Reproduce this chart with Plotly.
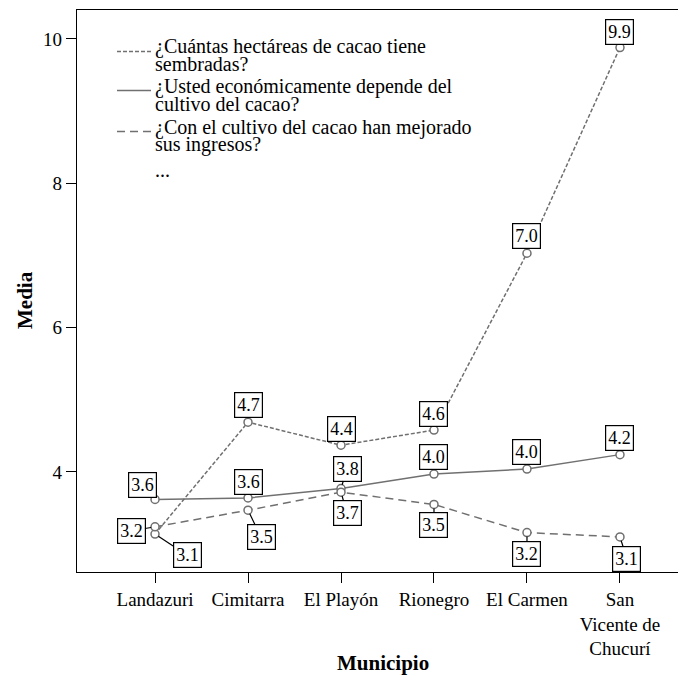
import plotly.graph_objects as go

municipios = ["Landazuri", "Cimitarra", "El Playón", "Rionegro", "El Carmen", "San<br>Vicente de<br>Chucurí"]
series_names = [
    ["¿Cuántas hectáreas de cacao tiene", "sembradas?"],
    ["¿Usted económicamente depende del", "cultivo del cacao?"],
    ["¿Con el cultivo del cacao han mejorado", "sus ingresos?"],
]
extra_legend = "..."
hectareas = [3.14, 4.69, 4.37, 4.58, 7.03, 9.88]
depende = [3.62, 3.64, 3.77, 3.97, 4.04, 4.24]
ingresos = [3.24, 3.47, 3.72, 3.55, 3.16, 3.10]
y_ticks = [4, 6, 8, 10]
x_title = "Municipio"
y_title = "Media"

series = [hectareas, depende, ingresos]
dashes = ["4px,2px", "solid", "8px,5px"]
# label offsets (pixels) for each series / point
offsets = [
    [(32, 21), (0, -17), (0, -16), (0, -16), (0, -17), (0, -16)],
    [(-13, -14), (0, -16), (6, -20), (0, -17), (0, -17), (0, -17)],
    [(-24, 4), (13, 27), (6, 21), (0, 21), (0, 21), (7, 22)],
]

GRAY = "#707070"
FONT = "Liberation Serif"
OFF = 8  # page body margin
W, H = 678, 669
L, R, T, B = 69, 0, 2, 105
PW, PH = W - L - R, H - T - B


def px_x(page_x):
    return (page_x - OFF - L) / PW


def px_y(page_y):
    return 1 - (page_y - OFF - T) / PH


fig = go.Figure()
for vals, dash, nm in zip(series, dashes, series_names):
    fig.add_trace(go.Scatter(
        x=municipios, y=vals, mode="lines+markers", showlegend=False,
        name=" ".join(nm),
        line=dict(color=GRAY, width=1.5, dash=dash),
        marker=dict(symbol="circle", size=8, color="white", line=dict(color=GRAY, width=1.5)),
    ))

annotations = []
for vals, offs in zip(series, offsets):
    for m, v, (ax, ay) in zip(municipios, vals, offs):
        annotations.append(dict(
            x=m, y=v, xref="x", yref="y", text=f"{v:.1f}",
            showarrow=True, arrowhead=0, arrowwidth=1.2, arrowcolor="black",
            ax=ax, ay=ay, standoff=4,
            bgcolor="white", bordercolor="black", borderwidth=1.2, borderpad=2,
            font=dict(family=FONT, size=18, color="black"),
        ))

# legend drawn inside the plot (SPSS style)
shapes = []
legend_line_centers = [(46.5, 64), (86.5, 104), (127.5, 144)]
legend_sample_y = [51.5, 90.5, 131.5]
for nm, dash, (c1, c2), sy in zip(series_names, dashes, legend_line_centers, legend_sample_y):
    for txt, cy in zip(nm, (c1, c2)):
        annotations.append(dict(
            x=px_x(153), y=px_y(cy), xref="paper", yref="paper", text=txt,
            showarrow=False, xanchor="left", yanchor="middle",
            font=dict(family=FONT, size=20, color="black"),
        ))
    shapes.append(dict(
        type="line", xref="paper", yref="paper",
        x0=px_x(117), x1=px_x(151), y0=px_y(sy), y1=px_y(sy),
        line=dict(color=GRAY, width=1.5, dash=dash),
    ))
annotations.append(dict(
    x=px_x(153), y=px_y(170), xref="paper", yref="paper", text=extra_legend,
    showarrow=False, xanchor="left", yanchor="middle",
    font=dict(family=FONT, size=20, color="black"),
))

# axis titles
annotations.append(dict(
    x=px_x(383), y=px_y(663), xref="paper", yref="paper", text=f"<b>{x_title}</b>",
    showarrow=False, xanchor="center", yanchor="middle",
    font=dict(family=FONT, size=21, color="black"),
))
annotations.append(dict(
    x=px_x(25), y=px_y(300), xref="paper", yref="paper", text=f"<b>{y_title}</b>",
    showarrow=False, xanchor="center", yanchor="middle", textangle=-90,
    font=dict(family=FONT, size=21, color="black"),
))

fig.update_layout(
    width=W, height=H,
    margin=dict(l=L, r=R, t=T, b=B, autoexpand=False),
    paper_bgcolor="white", plot_bgcolor="white",
    font=dict(family=FONT, color="black"),
    annotations=annotations,
    shapes=shapes,
    showlegend=False,
    xaxis=dict(
        type="category", range=[-0.839, 5.71], automargin=False,
        showline=True, linecolor="black", linewidth=1.2, mirror=True,
        ticks="outside", ticklen=10, tickcolor="black", tickwidth=1.2,
        tickfont=dict(family=FONT, size=19, color="black"),
        showgrid=False, zeroline=False,
    ),
    yaxis=dict(
        range=[2.614, 10.40], tickvals=y_ticks, automargin=False,
        showline=True, linecolor="black", linewidth=1.2, mirror=False,
        ticks="outside", ticklen=10, tickcolor="black", tickwidth=1.2,
        tickfont=dict(family=FONT, size=19, color="black"),
        showgrid=False, zeroline=False,
    ),
)

fig.write_html("out.html")
